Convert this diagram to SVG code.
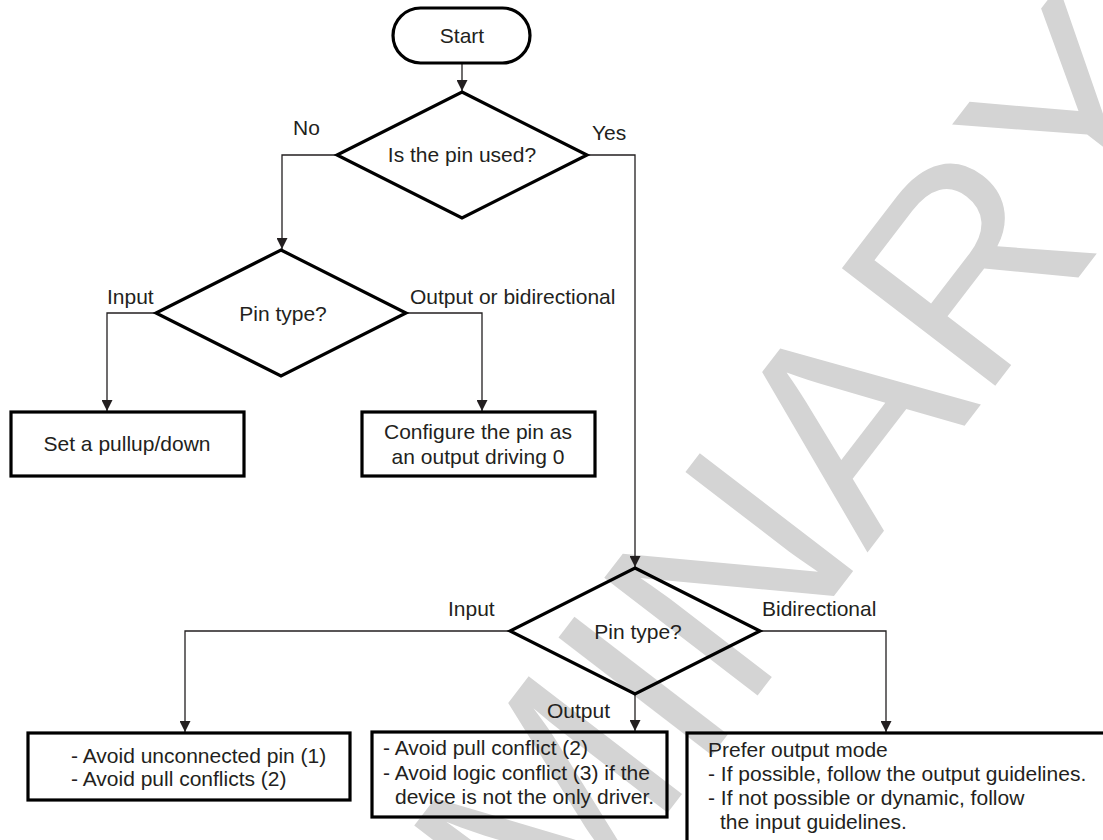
<svg xmlns="http://www.w3.org/2000/svg" width="1103" height="840" viewBox="0 0 1103 840">
<style>
.t{font-family:"Liberation Sans",Arial,sans-serif;font-size:21px;fill:#231f20}
.c{text-anchor:middle}
.shape{fill:none;stroke:#000;stroke-width:3.2;stroke-linejoin:miter}
.conn{fill:none;stroke:#231f20;stroke-width:1.3}
.wm{font-family:"Liberation Sans",Arial,sans-serif;font-size:281px;fill:#d4d4d4}
</style>
<defs>
<marker id="arr" markerUnits="userSpaceOnUse" markerWidth="11" markerHeight="11" refX="11" refY="5.5" orient="auto">
<path d="M0,0 L11,5.5 L0,11 z" fill="#231f20"/>
</marker>
</defs>
<rect width="1103" height="840" fill="#fff"/>
<g id="watermark">
<text class="wm" transform="translate(867,553) rotate(-52.5)" x="-1327" y="0">PRELIMINARY</text>
</g>
<g id="connectors">
<path class="conn" d="M462,63 V91" marker-end="url(#arr)"/>
<path class="conn" d="M337,155 H282 V249" marker-end="url(#arr)"/>
<path class="conn" d="M587,155 H635 V567" marker-end="url(#arr)"/>
<path class="conn" d="M156,313 H107 V411" marker-end="url(#arr)"/>
<path class="conn" d="M406,313 H482 V411" marker-end="url(#arr)"/>
<path class="conn" d="M510,631 H185 V732" marker-end="url(#arr)"/>
<path class="conn" d="M635,694 V731" marker-end="url(#arr)"/>
<path class="conn" d="M760,631 H886 V732" marker-end="url(#arr)"/>
<text class="t" x="293" y="135">No</text>
<text class="t" x="592" y="140">Yes</text>
<text class="t" x="107" y="304">Input</text>
<text class="t" x="410" y="304">Output or bidirectional</text>
<text class="t" x="448" y="616">Input</text>
<text class="t" x="762" y="616">Bidirectional</text>
<text class="t" x="547" y="718">Output</text>
</g>
<g id="start">
<rect class="shape" x="393" y="8" width="137" height="55" rx="27.5"/>
<text class="t c" x="462" y="43">Start</text>
</g>
<g id="pinUsed">
<path class="shape" d="M462,92 L587,155 L462,218 L337,155 Z"/>
<text class="t c" x="462" y="162">Is the pin used?</text>
</g>
<g id="pinType1">
<path class="shape" d="M281,250 L406,313 L281,376 L156,313 Z"/>
<text class="t c" x="283" y="321">Pin type?</text>
</g>
<g id="pullupDown">
<rect class="shape" x="11" y="412" width="233" height="64"/>
<text class="t c" x="127" y="451">Set a pullup/down</text>
</g>
<g id="configOutput">
<rect class="shape" x="362" y="412" width="233" height="64"/>
<text class="t c" x="478" y="439">Configure the pin as</text>
<text class="t c" x="478" y="464">an output driving 0</text>
</g>
<g id="pinType2">
<path class="shape" d="M635,568 L760,631 L635,694 L510,631 Z"/>
<text class="t c" x="638" y="639">Pin type?</text>
</g>
<g id="inputBox">
<rect class="shape" x="28" y="733" width="322" height="67"/>
<text class="t" x="71" y="763">- Avoid unconnected pin (1)</text>
<text class="t" x="71" y="786">- Avoid pull conflicts (2)</text>
</g>
<g id="outputBox">
<rect class="shape" x="372" y="732" width="295" height="85"/>
<text class="t" x="383" y="755">- Avoid pull conflict (2)</text>
<text class="t" x="383" y="780">- Avoid logic conflict (3) if the</text>
<text class="t" x="395" y="804">device is not the only driver.</text>
</g>
<g id="bidirBox">
<rect class="shape" x="687" y="733" width="430" height="120"/>
<text class="t" x="708" y="757">Prefer output mode</text>
<text class="t" x="708" y="781">- If possible, follow the output guidelines.</text>
<text class="t" x="708" y="805">- If not possible or dynamic, follow</text>
<text class="t" x="720" y="829">the input guidelines.</text>
</g>
</svg>
